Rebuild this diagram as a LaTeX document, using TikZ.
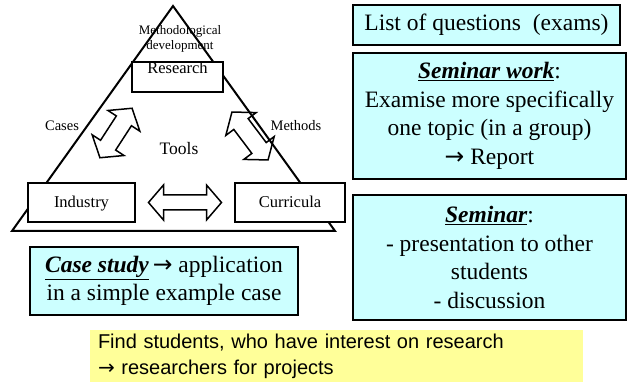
\documentclass[tikz,border=0pt]{standalone}
\usepackage{fontspec}
\setmainfont{Liberation Serif}
\newfontfamily\arialfont{Liberation Sans}
\newfontfamily\arrowfont{DejaVu Sans}
\newcommand{\ra}{{\arrowfont →}}
\usetikzlibrary{calc}
\definecolor{boxcyan}{HTML}{CCFFFF}
\definecolor{noteyellow}{HTML}{FFFF99}
\tikzstyle{triline} = [draw=black, line width=2pt, line join=miter]
\tikzstyle{corner} = [rectangle, draw=black, line width=2pt, fill=white, inner sep=0pt, text height=25pt, text depth=14pt, anchor=base, font=\fontsize{16.5}{18}\selectfont]
\tikzstyle{sidetext} = [anchor=base, font=\fontsize{14.5}{16}\selectfont]
\tikzstyle{infobox} = [rectangle, draw=black, line width=2pt, fill=boxcyan, align=center, inner sep=0pt, font=\fontsize{23.5}{28.5}\selectfont]
\tikzstyle{hollowarrow} = [draw=black, line width=1.5pt, line join=miter]
% hollow double arrow: centre, angle, length, half shaft, half head
\newcommand{\fatarrow}[5]{%
  \begin{scope}[shift={#1}, rotate=#2]
    \draw[hollowarrow] (-#3/2,0) -- (-#3/2+15,#5) -- (-#3/2+15,#4) -- (#3/2-15,#4) -- (#3/2-15,#5) -- (#3/2,0)
      -- (#3/2-15,-#5) -- (#3/2-15,-#4) -- (-#3/2+15,-#4) -- (-#3/2+15,-#5) -- cycle;
  \end{scope}}

\begin{document}
\begin{tikzpicture}[x=1pt, y=-1pt]
\useasboundingbox (0,0) rectangle (627,382);

% triangle
\coordinate (apex) at (173,6);
\coordinate (lefttip) at (12,231);
\coordinate (righttip) at (335,231);
\draw[triline] (apex) -- (lefttip) -- (righttip) -- cycle;

\node (research) [corner, text height=12pt, text depth=18pt, minimum width=91pt] at (177.5,74) {Research};
\node (industry) [corner, minimum width=107pt] at (81.5,208) {Industry};
\node (curricula) [corner, minimum width=110pt] at (290,208) {Curricula};

\node (methdev) [align=center, font=\fontsize{13}{14.5}\selectfont] at (180,39) {Methodological\\development};
\node (tools) [anchor=base, font=\fontsize{17.5}{20}\selectfont] at (179,155) {Tools};
\node (cases) [sidetext] at (62,131) {Cases};
\node (methods) [sidetext] at (296,131) {Methods};

\fatarrow{($(industry.east)!0.5!(curricula.west)$)}{0}{73}{7.5}{17.5}
\fatarrow{(116,133)}{57}{59}{9}{19}
\fatarrow{(250,136)}{-53}{60}{9}{19}

% boxes on the right
\node (questions) [infobox, minimum width=267pt, minimum height=40pt] at (486.5,25) {List of questions\ \ (exams)};
\node (semwork) [infobox, minimum width=273pt, minimum height=126pt] at (489.5,116)
  {\underline{\textbf{\textit{Seminar work}}}:\\Examise more specifically\\one topic (in a group)\\\ra\ Report};
\node (seminar) [infobox, minimum width=273pt, minimum height=125pt] at (489.5,257.5)
  {\underline{\textbf{\textit{Seminar}}}:\\- presentation to other\\students\\- discussion};
\node (casestudy) [infobox, minimum width=268pt, minimum height=68pt] at (164,281)
  {\underline{\textbf{\textit{Case study}}}\,\ra\ application\\in a simple example case};

\node (students) [rectangle, fill=noteyellow, minimum width=493pt, minimum height=52pt, text width=477pt, inner xsep=8pt, align=left, font=\arialfont\fontsize{20}{26}\selectfont] at (336.5,356)
  {Find students, who have interest on research\\\ra\ researchers for projects};
\end{tikzpicture}
\end{document}
